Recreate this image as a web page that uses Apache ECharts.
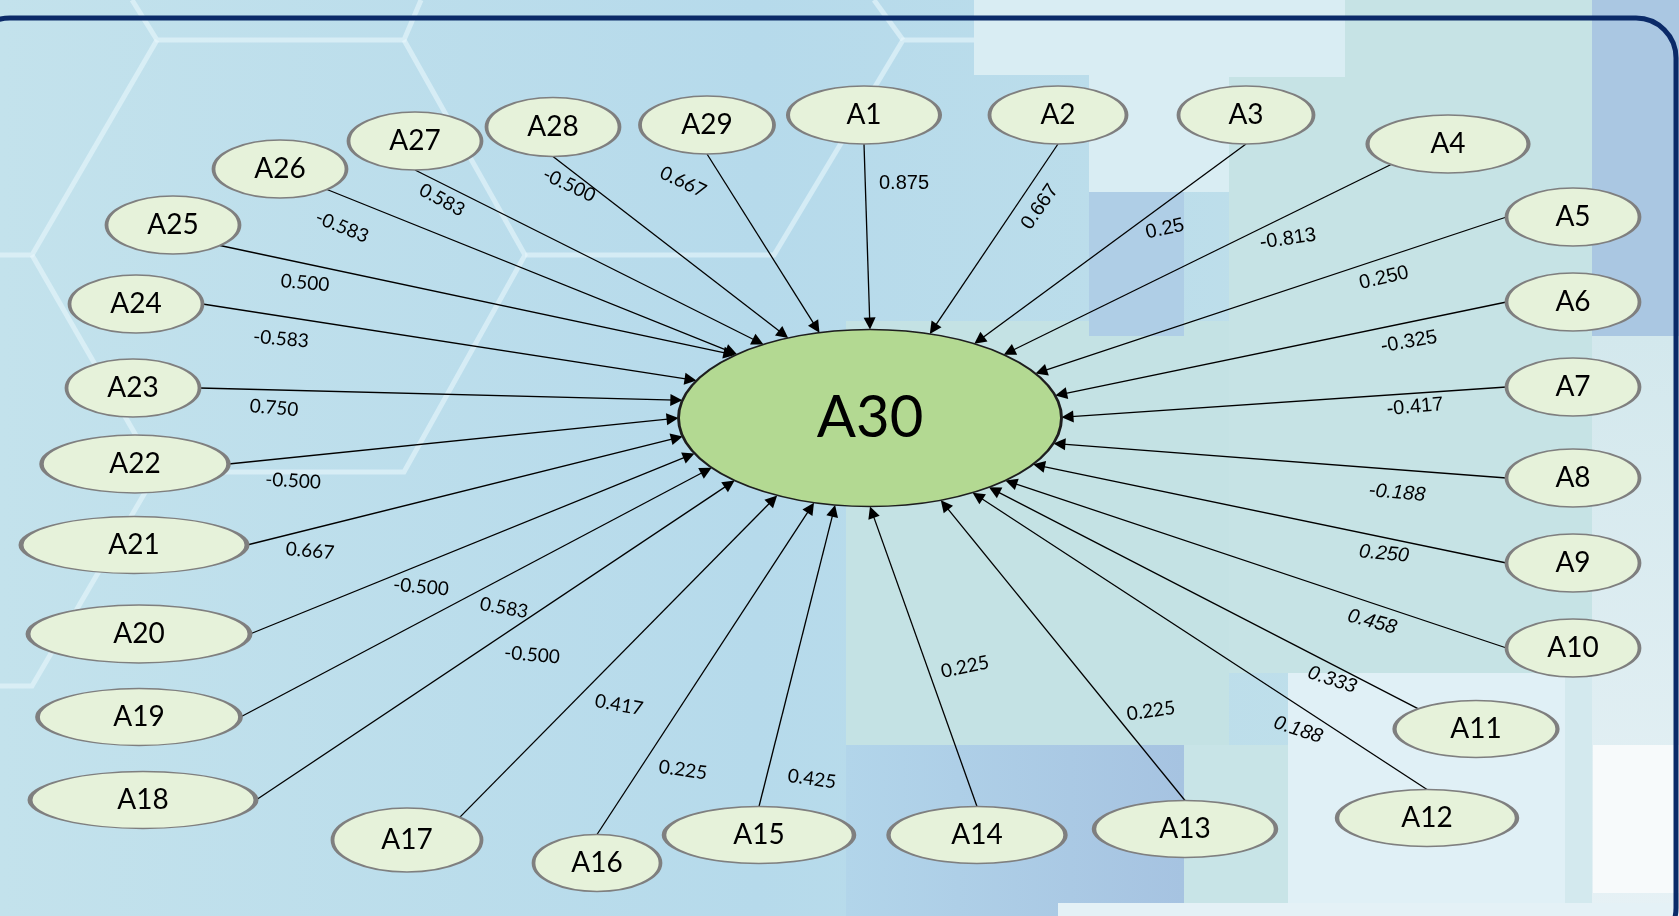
<!DOCTYPE html>
<html>
<head>
<meta charset="utf-8">
<script src="https://cdn.jsdelivr.net/npm/echarts@6/dist/echarts.min.js"></script>
<style>
html,body{margin:0;padding:0;background:#c0e0ec;}
#chart{width:1679px;height:916px;}
</style>
</head>
<body>
<div id="chart"></div>
<script>
// ---------------- data ----------------
const sources = ['A1','A2','A3','A4','A5','A6','A7','A8','A9','A10','A11','A12','A13','A14','A15',
  'A16','A17','A18','A19','A20','A21','A22','A23','A24','A25','A26','A27','A28','A29'];
const target = 'A30';
const weights = ['0.875','0.667','0.25','-0.813','0.250','-0.325','-0.417','-0.188','0.250','0.458',
  '0.333','0.188','0.225','0.225','0.425','0.225','0.417','-0.500','0.583','-0.500','0.667','-0.500',
  '0.750','-0.583','0.500','-0.583','0.583','-0.500','0.667'];

// ---------------- layout (diagram placement, not data) ----------------
const nodeXY = [[864,115],[1058,115],[1246,115],[1448,144],[1573,217],[1573,302],[1573,387],[1573,478],
  [1573,563],[1573,648],[1476,729],[1427,818],[1185,829],[977,835],[759,835],[597,863],[407,840],
  [143,800],[139,717],[139,634],[134,545],[135,464],[133,388],[136,304],[173,225],[280,169],[415,141],
  [553,127],[707,125]];
const nodeWH = [[152,58],[137,58],[135,58],[161,58],[133,58],[133,58],[133,58],[133,58],[133,58],[133,58],
  [163,57],[180,57],[182,57],[177,57],[190,57],[127,57],[149,64],[226,57],[203,57],[222,58],[226,57],
  [187,58],[133,58],[133,58],[133,58],[133,58],[133,58],[133,59],[134,58]];
const targetXY = [870,418];
const targetWH = [383,177];
const srcAnchor = [90,90,90,135,180,180,180,180,180,180,225,270,270,270,270,270,315,0,0,0,0,0,0,0,45,45,90,90,90];
const tgtAnchor = [-90,-71.8,-57,-45.7,-30.2,-14.7,-0.5,16.7,31.6,45,51.6,57.6,68.3,90,100.5,107,119,135,
  145.8,156.4,168,180,191.5,205,225.3,226,236.2,244.7,254.7];
const labelXY = [[904,183],[1040,207],[1165,229],[1288,239],[1384,278],[1409,342],[1415,407],[1397,493],
  [1384,554],[1372,622],[1332,680],[1298,730],[1151,711],[965,667],[812,779],[683,770],[619,705],
  [532,655],[504,608],[421,587],[310,551],[293,481],[274,408],[281,339],[305,283],[342,227],[442,200],
  [569,185],[683,182]];
const labelRot = [0,55,12,8,13,10,5,-5,-5,-15,-18,-18,8,12,-8,-8,-10,-5,-10,-5,-5,-3,-5,-5,-5,-22,-28,-25,-25];

// ---------------- helpers ----------------
function ellPt(c, wh, deg){
  const r = deg*Math.PI/180;
  return [c[0] + wh[0]/2*Math.cos(r), c[1] + wh[1]/2*Math.sin(r)];
}
const ARROW = [8,12];
const ellipsePath = 'path://M0,50 A50,50 0 1,1 100,50 A50,50 0 1,1 0,50 Z';

const nodeData = sources.map((s,i)=>({
  name: s, value: nodeXY[i], symbolSize: nodeWH[i]
}));
nodeData.push({
  name: target, value: targetXY, symbolSize: targetWH,
  itemStyle:{color:'#b3d992', borderColor:'#1e1e1e', borderWidth:2},
  label:{fontSize:58, color:'#000'}
});

const edgeData = sources.map((s,i)=>{
  const p1 = ellPt(nodeXY[i], nodeWH[i], srcAnchor[i]);
  const tip = ellPt(targetXY, targetWH, tgtAnchor[i]);
  const dx = tip[0]-p1[0], dy = tip[1]-p1[1];
  const len = Math.sqrt(dx*dx+dy*dy);
  const end = [tip[0]-dx/len*ARROW[1]/2, tip[1]-dy/len*ARROW[1]/2];
  return {coords:[p1,end]};
});

const labelData = weights.map((w,i)=>{
  const arial = i < 12;
  return {
    value: labelXY[i], text: w,
    label:{
      rotate: labelRot[i],
      fontFamily: arial ? '"Liberation Sans", Arial, sans-serif' : 'Lato, "Open Sans", sans-serif',
      fontSize: arial ? 20 : 19,
      fontStyle: (i>=7 && i<=11) ? 'italic' : 'normal'
    }
  };
});

// ---------------- background decoration ----------------
const hexStyle = {stroke:'rgba(232,246,251,0.6)', lineWidth:5, fill:null};
const bg = [
  {type:'rect', shape:{x:1229,y:0,width:363,height:673}, style:{fill:'#c6e3e5'}},
  {type:'rect', shape:{x:846,y:321,width:383,height:424}, style:{fill:'#c4e2e4'}},
  {type:'polygon', shape:{points:[[974,0],[1345,0],[1345,77],[1229,77],[1229,192],[1089,192],[1089,75],[974,75]]}, style:{fill:'#d9edf3'}},
  {type:'rect', shape:{x:1089,y:192,width:95,height:144}, style:{fill:'#afcee6'}},
  {type:'rect', shape:{x:1592,y:0,width:87,height:336}, style:{fill:'#aac7e2'}},
  {type:'rect', shape:{x:1592,y:336,width:87,height:580}, style:{fill:{type:'linear',x:0,y:0,x2:0,y2:1,colorStops:[{offset:0,color:'#d3e8ed'},{offset:1,color:'#e6f1f5'}]}}},
  {type:'rect', shape:{x:1593,y:745,width:86,height:148}, style:{fill:'#f7fafb'}},
  {type:'rect', shape:{x:1288,y:673,width:277,height:243}, style:{fill:'#e0f0f6'}},
  {type:'rect', shape:{x:1565,y:673,width:27,height:243}, style:{fill:'#d3e9ee'}},
  {type:'rect', shape:{x:1184,y:745,width:104,height:171}, style:{fill:'#c8e4e7'}},
  {type:'rect', shape:{x:846,y:745,width:338,height:171}, style:{fill:{type:'linear',x:0,y:0,x2:1,y2:0,colorStops:[{offset:0,color:'#b2d5ea'},{offset:1,color:'#a6c3e1'}]}}},
  {type:'rect', shape:{x:1058,y:903,width:621,height:13}, style:{fill:'#e4f1f6'}},
  {type:'polyline', shape:{points:[[132,0],[157,40],[404,40],[421,0]]}, style:hexStyle},
  {type:'polyline', shape:{points:[[0,255],[32,255],[157,40]]}, style:hexStyle},
  {type:'polyline', shape:{points:[[32,255],[157,472],[404,472],[525,255],[404,40]]}, style:hexStyle},
  {type:'polyline', shape:{points:[[157,472],[32,686],[0,686]]}, style:hexStyle},
  {type:'polyline', shape:{points:[[525,255],[774,255],[903,40],[974,40]]}, style:hexStyle},
  {type:'polyline', shape:{points:[[903,40],[874,0]]}, style:hexStyle},
  {type:'rect', shape:{x:-30,y:18,width:1706,height:930,r:40}, style:{fill:null, stroke:'#0b2a68', lineWidth:5}}
];

const chart = echarts.init(document.getElementById('chart'), null, {renderer:'canvas'});
chart.setOption({
  animation:false,
  backgroundColor:{type:'linear',x:0,y:0,x2:1,y2:0,colorStops:[
    {offset:0,color:'#c3e2ec'},{offset:0.45,color:'#b6daeb'},{offset:1,color:'#c4e2ea'}]},
  graphic:{elements: bg.map(e=>Object.assign({z:-100, silent:true}, e))},
  grid:{left:0,right:0,top:0,bottom:0,containLabel:false},
  xAxis:{type:'value',min:0,max:1679,show:false},
  yAxis:{type:'value',min:0,max:916,inverse:true,show:false},
  series:[
    {
      type:'lines', coordinateSystem:'cartesian2d', silent:true, z:3,
      symbol:['none','triangle'], symbolSize:ARROW,
      lineStyle:{color:'#000', width:1.3, opacity:1},
      data: edgeData
    },
    {
      type:'scatter', silent:true, z:4, symbol: ellipsePath,
      itemStyle:{color:'#e6f2da', borderColor:'#7f7f7f', borderWidth:2.5, opacity:1},
      label:{show:true, position:'inside', formatter:'{b}', color:'#000', textBorderWidth:0,
        fontFamily:'Lato, "Open Sans", sans-serif', fontSize:28},
      data: nodeData
    },
    {
      type:'scatter', silent:true, z:5, symbolSize:1,
      itemStyle:{color:'rgba(0,0,0,0)'},
      label:{show:true, position:'inside', color:'#000', textBorderWidth:0, opacity:1,
        formatter: p=>p.data.text},
      data: labelData
    }
  ]
});
</script>
</body>
</html>
